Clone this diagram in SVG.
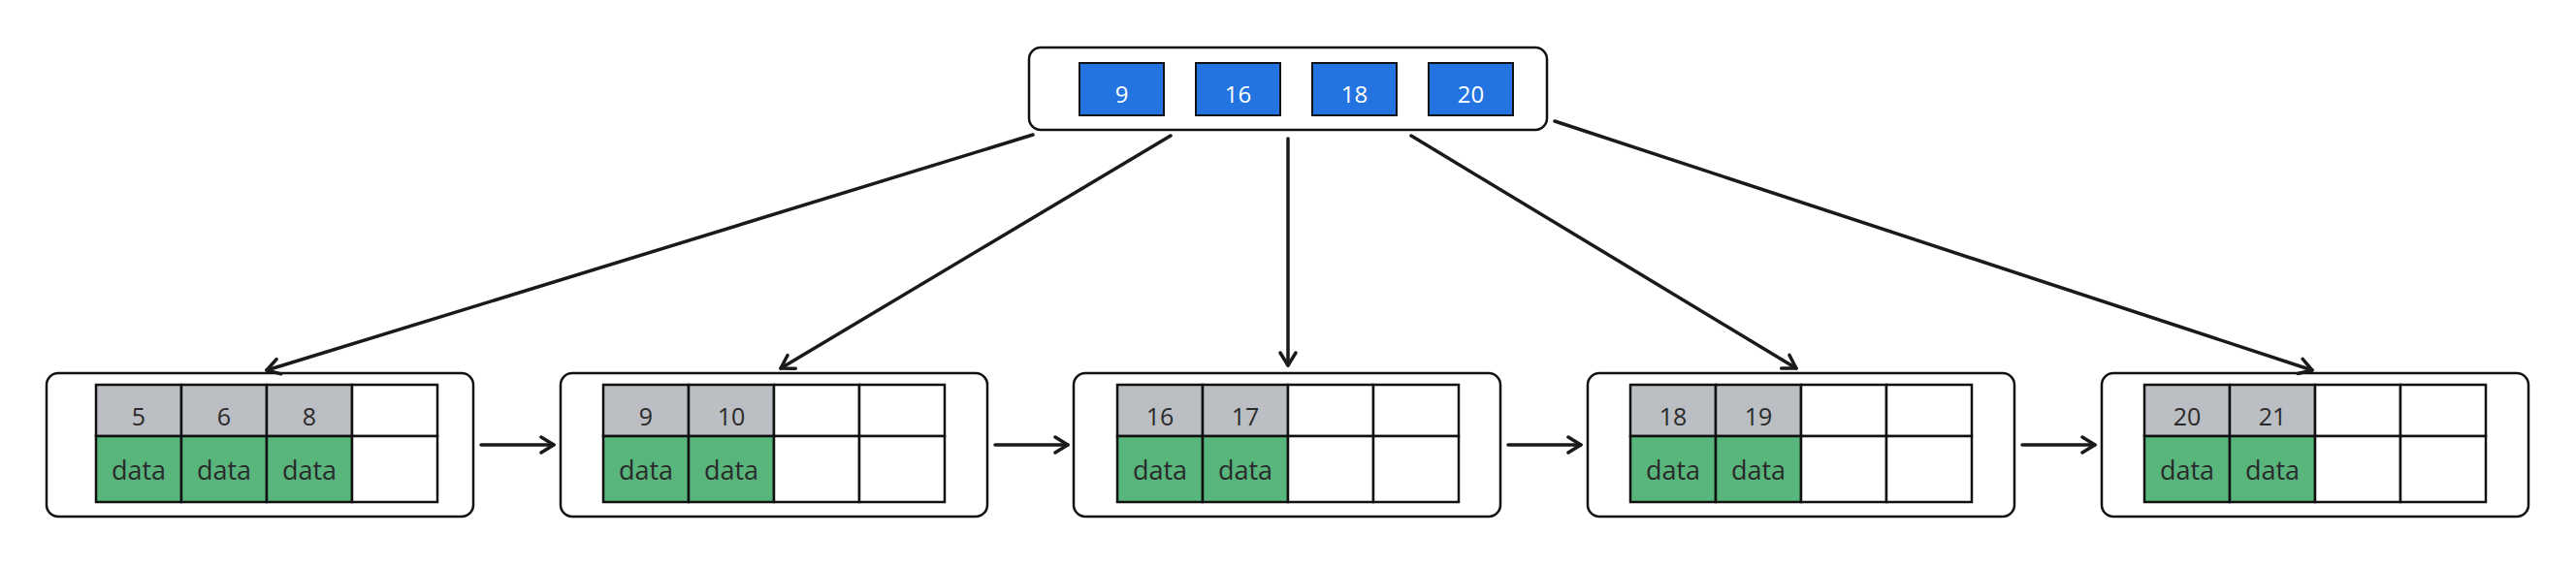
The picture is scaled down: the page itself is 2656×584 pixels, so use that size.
<svg xmlns="http://www.w3.org/2000/svg" width="2656" height="584" viewBox="0 0 2656 584">
<defs>
<style>
.box{fill:#fff;stroke:#111;stroke-width:2.5}
.key{fill:#2373e0;stroke:#111;stroke-width:2}
.kt{font-family:"Open Sans","Noto Sans",sans-serif;font-size:24px;fill:#fff;text-anchor:middle}
.g{fill:#bbbec3;stroke:#111;stroke-width:2.5}
.d{fill:#58b67c;stroke:#111;stroke-width:2.5}
.e{fill:#fff;stroke:#111;stroke-width:2.5}
.lt{font-family:"Open Sans","Noto Sans",sans-serif;font-size:25px;fill:#2a2a2a;text-anchor:middle}
.dt{font-family:"Open Sans","Noto Sans",sans-serif;font-size:27px;fill:#2a2a2a;text-anchor:middle}
.c{fill:none;stroke:#1a1a1a;stroke-width:3.5;stroke-linecap:round}
</style>
<marker id="ah" viewBox="0 0 20 20" refX="16" refY="10" markerWidth="20" markerHeight="20" markerUnits="userSpaceOnUse" orient="auto">
<path d="M3,2 L16,10 L3,18" fill="none" stroke="#1a1a1a" stroke-width="3.5" stroke-linecap="round" stroke-linejoin="round"/>
</marker>
</defs>
<rect width="2656" height="584" fill="#fff"/>

<g id="root">
<rect class="box" x="1061" y="49" width="534" height="85" rx="12"/>
<rect class="key" x="1113" y="65" width="87" height="54"/>
<rect class="key" x="1233" y="65" width="87" height="54"/>
<rect class="key" x="1353" y="65" width="87" height="54"/>
<rect class="key" x="1473" y="65" width="87" height="54"/>
<text class="kt" x="1156.5" y="106">9</text>
<text class="kt" x="1276.5" y="106">16</text>
<text class="kt" x="1396.5" y="106">18</text>
<text class="kt" x="1516.5" y="106">20</text>
</g>

<g id="leaf1">
<rect class="box" x="48" y="385" width="440" height="148" rx="12"/>
<rect class="g" x="99" y="397" width="88" height="53"/>
<rect class="g" x="187" y="397" width="88" height="53"/>
<rect class="g" x="275" y="397" width="88" height="53"/>
<rect class="e" x="363" y="397" width="88" height="53"/>
<rect class="d" x="99" y="450" width="88" height="68"/>
<rect class="d" x="187" y="450" width="88" height="68"/>
<rect class="d" x="275" y="450" width="88" height="68"/>
<rect class="e" x="363" y="450" width="88" height="68"/>
<text class="lt" x="143" y="439">5</text>
<text class="lt" x="231" y="439">6</text>
<text class="lt" x="319" y="439">8</text>
<text class="dt" x="143" y="495">data</text>
<text class="dt" x="231" y="495">data</text>
<text class="dt" x="319" y="495">data</text>
</g>

<g id="leaf2">
<rect class="box" x="578" y="385" width="440" height="148" rx="12"/>
<rect class="g" x="622" y="397" width="88" height="53"/>
<rect class="g" x="710" y="397" width="88" height="53"/>
<rect class="e" x="798" y="397" width="88" height="53"/>
<rect class="e" x="886" y="397" width="88" height="53"/>
<rect class="d" x="622" y="450" width="88" height="68"/>
<rect class="d" x="710" y="450" width="88" height="68"/>
<rect class="e" x="798" y="450" width="88" height="68"/>
<rect class="e" x="886" y="450" width="88" height="68"/>
<text class="lt" x="666" y="439">9</text>
<text class="lt" x="754" y="439">10</text>
<text class="dt" x="666" y="495">data</text>
<text class="dt" x="754" y="495">data</text>
</g>

<g id="leaf3">
<rect class="box" x="1107" y="385" width="440" height="148" rx="12"/>
<rect class="g" x="1152" y="397" width="88" height="53"/>
<rect class="g" x="1240" y="397" width="88" height="53"/>
<rect class="e" x="1328" y="397" width="88" height="53"/>
<rect class="e" x="1416" y="397" width="88" height="53"/>
<rect class="d" x="1152" y="450" width="88" height="68"/>
<rect class="d" x="1240" y="450" width="88" height="68"/>
<rect class="e" x="1328" y="450" width="88" height="68"/>
<rect class="e" x="1416" y="450" width="88" height="68"/>
<text class="lt" x="1196" y="439">16</text>
<text class="lt" x="1284" y="439">17</text>
<text class="dt" x="1196" y="495">data</text>
<text class="dt" x="1284" y="495">data</text>
</g>

<g id="leaf4">
<rect class="box" x="1637" y="385" width="440" height="148" rx="12"/>
<rect class="g" x="1681" y="397" width="88" height="53"/>
<rect class="g" x="1769" y="397" width="88" height="53"/>
<rect class="e" x="1857" y="397" width="88" height="53"/>
<rect class="e" x="1945" y="397" width="88" height="53"/>
<rect class="d" x="1681" y="450" width="88" height="68"/>
<rect class="d" x="1769" y="450" width="88" height="68"/>
<rect class="e" x="1857" y="450" width="88" height="68"/>
<rect class="e" x="1945" y="450" width="88" height="68"/>
<text class="lt" x="1725" y="439">18</text>
<text class="lt" x="1813" y="439">19</text>
<text class="dt" x="1725" y="495">data</text>
<text class="dt" x="1813" y="495">data</text>
</g>

<g id="leaf5">
<rect class="box" x="2167" y="385" width="440" height="148" rx="12"/>
<rect class="g" x="2211" y="397" width="88" height="53"/>
<rect class="g" x="2299" y="397" width="88" height="53"/>
<rect class="e" x="2387" y="397" width="88" height="53"/>
<rect class="e" x="2475" y="397" width="88" height="53"/>
<rect class="d" x="2211" y="450" width="88" height="68"/>
<rect class="d" x="2299" y="450" width="88" height="68"/>
<rect class="e" x="2387" y="450" width="88" height="68"/>
<rect class="e" x="2475" y="450" width="88" height="68"/>
<text class="lt" x="2255" y="439">20</text>
<text class="lt" x="2343" y="439">21</text>
<text class="dt" x="2255" y="495">data</text>
<text class="dt" x="2343" y="495">data</text>
</g>

<g id="connectors">
<line class="c" x1="1065" y1="139" x2="275" y2="382" marker-end="url(#ah)"/>
<line class="c" x1="1207" y1="140" x2="805" y2="380" marker-end="url(#ah)"/>
<line class="c" x1="1328" y1="143" x2="1328" y2="377" marker-end="url(#ah)"/>
<line class="c" x1="1455" y1="140" x2="1852" y2="380" marker-end="url(#ah)"/>
<line class="c" x1="1603" y1="125" x2="2384" y2="382" marker-end="url(#ah)"/>
<line class="c" x1="496" y1="459" x2="571" y2="459" marker-end="url(#ah)"/>
<line class="c" x1="1026" y1="459" x2="1101" y2="459" marker-end="url(#ah)"/>
<line class="c" x1="1555" y1="459" x2="1630" y2="459" marker-end="url(#ah)"/>
<line class="c" x1="2085" y1="459" x2="2160" y2="459" marker-end="url(#ah)"/>
</g>
</svg>
